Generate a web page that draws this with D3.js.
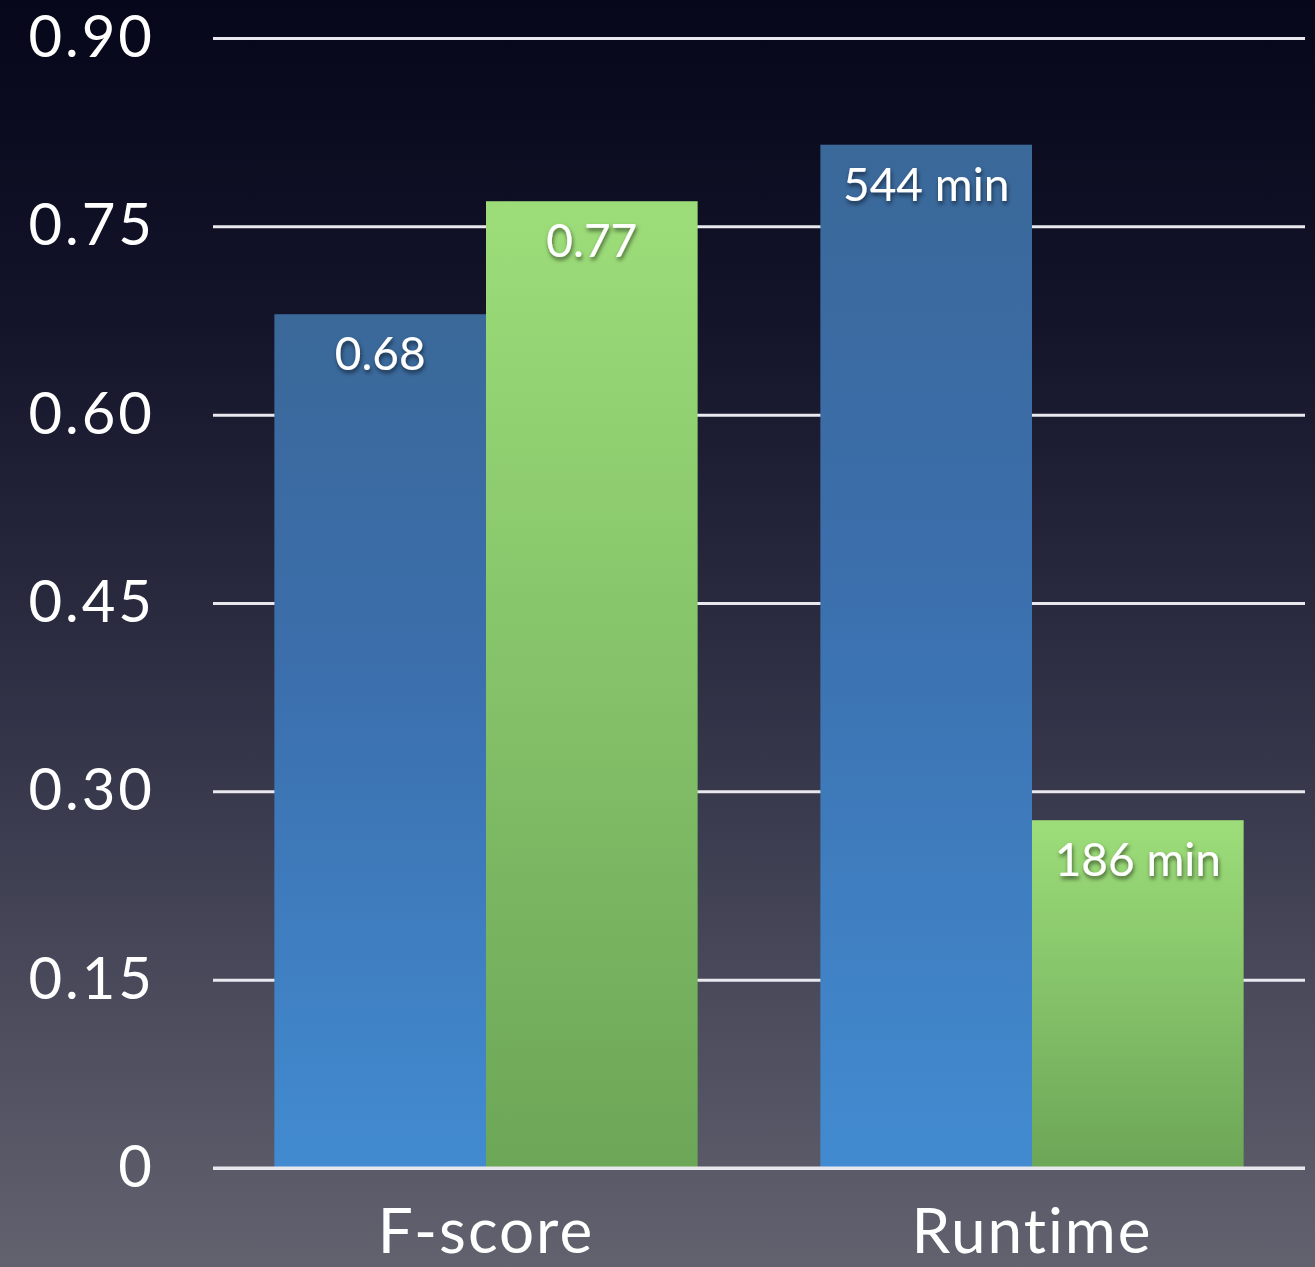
<!DOCTYPE html>
<html>
<head>
<meta charset="utf-8">
<script src="https://cdn.jsdelivr.net/npm/d3@7"></script>
<style>
  html, body { margin: 0; padding: 0; background: #0b0b1f; }
  svg { display: block; }
</style>
</head>
<body>
<svg id="chart"></svg>
<script>
// data
const categories = ["F-score", "Runtime"];
const series = ["before", "after"];
const heights = {
    "F-score": [0.68, 0.77],
    "Runtime": [0.815, 0.277]
};
const labels = {
    "F-score": ["0.68", "0.77"],
    "Runtime": ["544 min", "186 min"]
};
const yTicks = [0, 0.15, 0.30, 0.45, 0.60, 0.75, 0.90];
const tickLabels = ["0", "0.15", "0.30", "0.45", "0.60", "0.75", "0.90"];

const width = 1315, height = 1267;
const margin = {top: 38, right: 10, bottom: 99, left: 213};

const svg = d3.select("#chart")
    .attr("width", width)
    .attr("height", height);

const defs = svg.append("defs");

// background gradient, dark navy to slate
const bg = defs.append("linearGradient")
    .attr("id", "bg").attr("x1", 0).attr("y1", 0).attr("x2", 0).attr("y2", 1);
bg.append("stop").attr("offset", "0%").attr("stop-color", "#07071b");
bg.append("stop").attr("offset", "25%").attr("stop-color", "#131329");
bg.append("stop").attr("offset", "60%").attr("stop-color", "#35364a");
bg.append("stop").attr("offset", "100%").attr("stop-color", "#62626f");

const blue = defs.append("linearGradient")
    .attr("id", "blue").attr("x1", 0).attr("y1", 0).attr("x2", 0).attr("y2", 1);
blue.append("stop").attr("offset", "0%").attr("stop-color", "#3a6899");
blue.append("stop").attr("offset", "40%").attr("stop-color", "#3b6eab");
blue.append("stop").attr("offset", "100%").attr("stop-color", "#428bd1");

const green = defs.append("linearGradient")
    .attr("id", "green").attr("x1", 0).attr("y1", 0).attr("x2", 0).attr("y2", 1);
green.append("stop").attr("offset", "0%").attr("stop-color", "#9ddd79");
green.append("stop").attr("offset", "40%").attr("stop-color", "#89c76c");
green.append("stop").attr("offset", "100%").attr("stop-color", "#6ca657");

const shadow = defs.append("filter").attr("id", "shadow")
    .attr("x", "-20%").attr("y", "-20%").attr("width", "140%").attr("height", "160%");
shadow.append("feDropShadow")
    .attr("dx", 1).attr("dy", 3).attr("stdDeviation", 2)
    .attr("flood-color", "#000").attr("flood-opacity", 0.55);

svg.append("rect")
    .attr("width", width).attr("height", height)
    .attr("fill", "url(#bg)");

const x = d3.scaleBand()
    .domain(categories)
    .range([margin.left, width - margin.right]);

const xInner = d3.scaleBand()
    .domain(series)
    .range([0, x.bandwidth()])
    .paddingOuter(0.29);

const y = d3.scaleLinear()
    .domain([0, 0.90])
    .range([height - margin.bottom, margin.top]);

const fill = d3.scaleOrdinal()
    .domain(series)
    .range(["url(#blue)", "url(#green)"]);

// gridlines + tick labels
const yAxis = svg.append("g")
    .attr("transform", `translate(${margin.left},0)`)
    .call(d3.axisLeft(y)
        .tickValues(yTicks)
        .tickSize(-(width - margin.right - margin.left))
        .tickPadding(58)
        .tickFormat((d, i) => tickLabels[i]));
yAxis.select(".domain").remove();
yAxis.selectAll(".tick line")
    .attr("stroke", "#e8e8ee")
    .attr("stroke-width", 3);
yAxis.selectAll(".tick text")
    .attr("fill", "#fff")
    .attr("font-family", "Lato, 'Open Sans', sans-serif")
    .attr("font-size", 58)
    .attr("letter-spacing", 3);

// bars
const rows = categories.flatMap(c => series.map((s, i) => ({
    cat: c, ser: s, v: heights[c][i], label: labels[c][i]
})));

const bars = svg.append("g");
bars.selectAll("rect")
    .data(rows)
    .join("rect")
    .attr("x", d => x(d.cat) + xInner(d.ser))
    .attr("width", xInner.bandwidth())
    .attr("y", d => y(d.v))
    .attr("height", d => y(0) - y(d.v))
    .attr("fill", d => fill(d.ser));

bars.selectAll("text")
    .data(rows)
    .join("text")
    .attr("x", d => x(d.cat) + xInner(d.ser) + xInner.bandwidth() / 2)
    .attr("y", d => y(d.v) + 56)
    .attr("text-anchor", "middle")
    .attr("fill", "#fff")
    .attr("font-family", "Lato, 'Open Sans', sans-serif")
    .attr("font-size", 46)
    .attr("filter", "url(#shadow)")
    .text(d => d.label);

// baseline redrawn over the bars
svg.append("line")
    .attr("x1", margin.left).attr("x2", width - margin.right)
    .attr("y1", y(0)).attr("y2", y(0))
    .attr("stroke", "#e8e8ee").attr("stroke-width", 3);

// category labels
svg.append("g")
    .selectAll("text")
    .data(categories)
    .join("text")
    .attr("x", d => x(d) + x.bandwidth() / 2)
    .attr("y", height - 14)
    .attr("text-anchor", "middle")
    .attr("fill", "#fff")
    .attr("font-family", "Lato, 'Open Sans', sans-serif")
    .attr("font-size", 62)
    .attr("letter-spacing", 2)
    .text(d => d);
</script>
</body>
</html>
